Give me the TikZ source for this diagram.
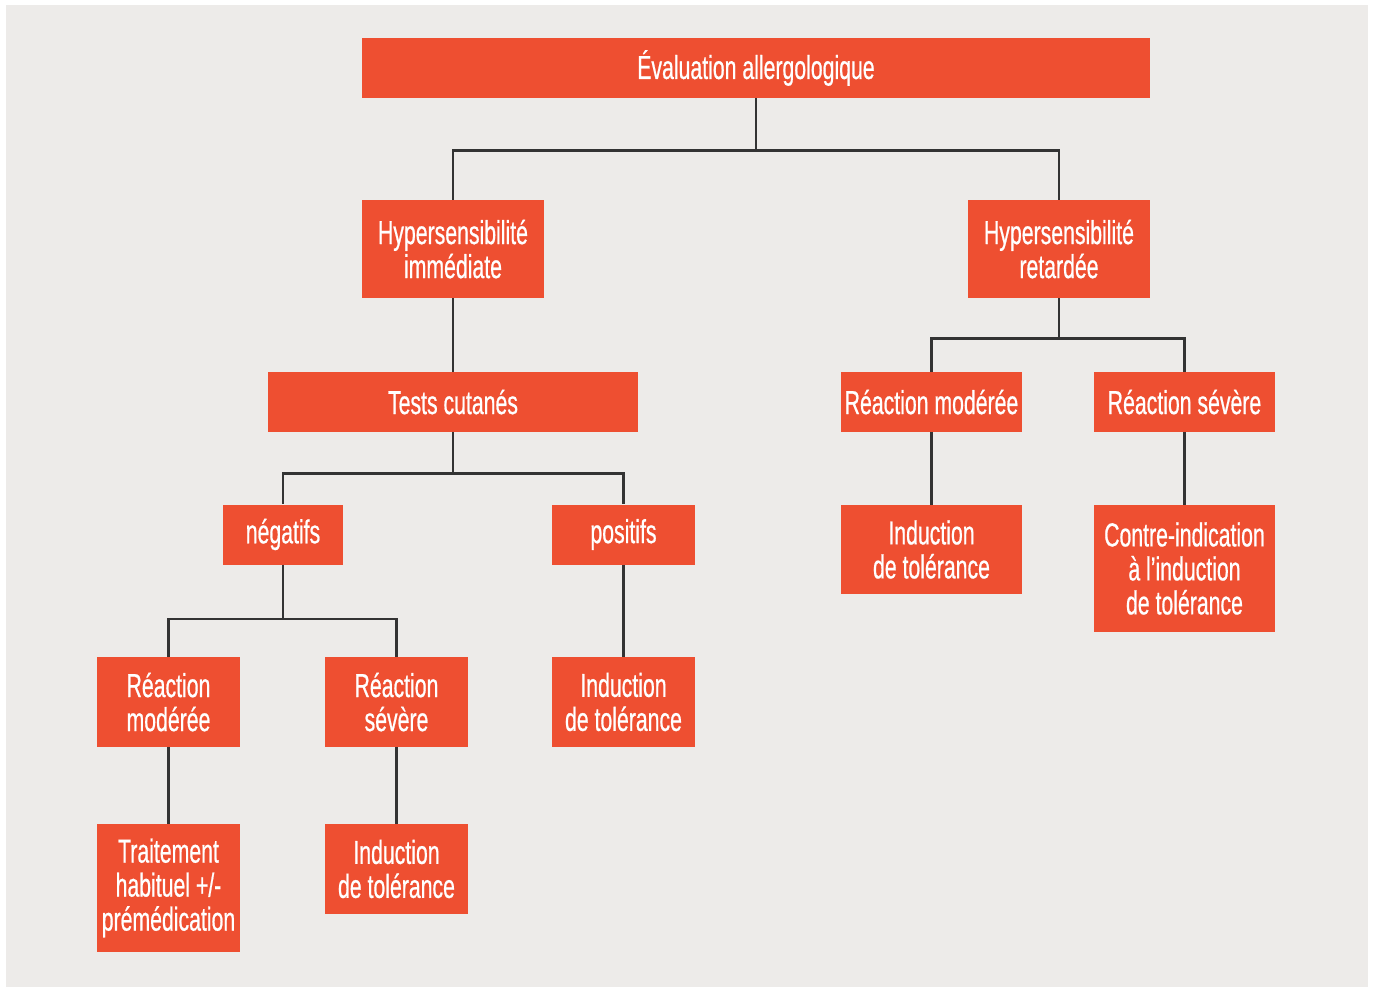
\documentclass[tikz,border=0pt]{standalone}
\usepackage{fontspec}
\setmainfont{Liberation Sans}[FakeStretch=0.64, FakeBold=0.6]
\usetikzlibrary{positioning}
\definecolor{boxred}{HTML}{EE4F31}
\definecolor{paper}{HTML}{EDEBE9}
\definecolor{wire}{HTML}{333333}
\tikzstyle{box} = [
  rectangle,
  inner sep=0pt,
  align=center,
  fill=boxred,
  text=white,
  font=\fontsize{16.6}{17}\selectfont
]
\tikzstyle{line} = [line width=1.25pt, draw=wire]

\begin{document}
\begin{tikzpicture}[x=0.5pt, y=-0.5pt]
    \useasboundingbox (0,0) rectangle (1373,987);
    \fill [white] (0,0) rectangle (1373,987);
    \fill [paper] (6,5) rectangle (1368,987);

    \node (evaluation) [box, minimum width=394pt, minimum height=30pt] at (756,68) {Évaluation allergologique};
    \node (hyp-imm) [box, minimum width=91pt, minimum height=49pt] at (453,249) {Hypersensibilité\\immédiate};
    \node (hyp-ret) [box, minimum width=91pt, minimum height=49pt] at (1059,249) {Hypersensibilité\\retardée};
    \node (tests) [box, minimum width=185pt, minimum height=30pt] at (453,402) {Tests cutanés};
    \node (negatifs) [box, minimum width=60pt, minimum height=30pt] at (283,534.5) {négatifs};
    \node (positifs) [box, minimum width=71.5pt, minimum height=30pt] at (623.5,534.5) {positifs};
    \node (neg-moderee) [box, minimum width=71.5pt, minimum height=45pt] at (168.5,702) {Réaction\\modérée};
    \node (neg-severe) [box, minimum width=71.5pt, minimum height=45pt] at (396.5,702) {Réaction\\sévère};
    \node (pos-induction) [box, minimum width=71.5pt, minimum height=45pt] at (623.5,702) {Induction\\de tolérance};
    \node (traitement) [box, minimum width=71.5pt, minimum height=64pt] at (168.5,888) {Traitement\\habituel +/-\\prémédication};
    \node (sev-induction) [box, minimum width=71.5pt, minimum height=45pt] at (396.5,869) {Induction\\de tolérance};
    \node (ret-moderee) [box, minimum width=90.5pt, minimum height=30pt] at (931.5,402) {Réaction modérée};
    \node (ret-severe) [box, minimum width=90.5pt, minimum height=30pt] at (1184.5,402) {Réaction sévère};
    \node (ret-induction) [box, minimum width=90.5pt, minimum height=44.5pt] at (931.5,549.5) {Induction\\de tolérance};
    \node (contre) [box, minimum width=90.5pt, minimum height=63.5pt] at (1184.5,568.5) {Contre-indication\\à l’induction\\de tolérance};

    \draw [line] (evaluation.south) -- ++(0,52) -| (hyp-imm.north);
    \draw [line] (evaluation.south) -- ++(0,52) -| (hyp-ret.north);
    \draw [line] (hyp-imm) -- (tests);
    \draw [line] (tests.south) -- ++(0,41) -| (negatifs.north);
    \draw [line] (tests.south) -- ++(0,41) -| (positifs.north);
    \draw [line] (negatifs.south) -- ++(0,54) -| (neg-moderee.north);
    \draw [line] (negatifs.south) -- ++(0,54) -| (neg-severe.north);
    \draw [line] (positifs) -- (pos-induction);
    \draw [line] (neg-moderee) -- (traitement);
    \draw [line] (neg-severe) -- (sev-induction);
    \draw [line] (hyp-ret.south) -- ++(0,40) -| (ret-moderee.north);
    \draw [line] (hyp-ret.south) -- ++(0,40) -| (ret-severe.north);
    \draw [line] (ret-moderee) -- (ret-induction);
    \draw [line] (ret-severe) -- (contre);
\end{tikzpicture}
\end{document}
